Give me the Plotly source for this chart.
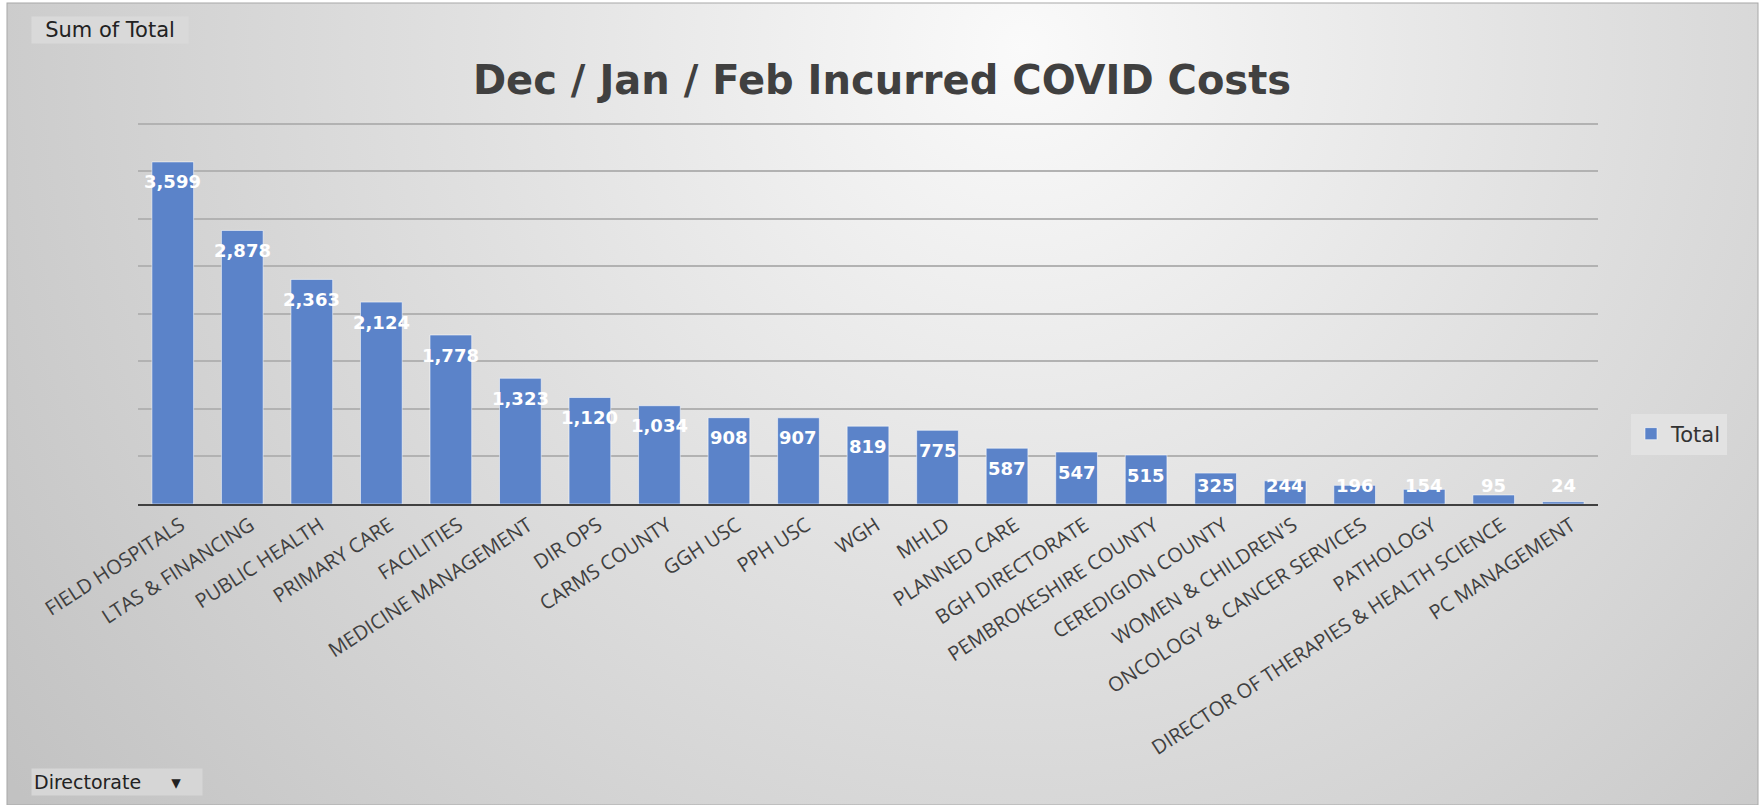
import base64
import numpy as np
import plotly.graph_objects as go

# ---- data ----
directorates = [
    "FIELD HOSPITALS", "LTAS & FINANCING", "PUBLIC HEALTH", "PRIMARY CARE",
    "FACILITIES", "MEDICINE MANAGEMENT", "DIR OPS", "CARMS COUNTY",
    "GGH USC", "PPH USC", "WGH", "MHLD", "PLANNED CARE", "BGH DIRECTORATE",
    "PEMBROKESHIRE COUNTY", "CEREDIGION COUNTY", "WOMEN & CHILDREN'S",
    "ONCOLOGY & CANCER SERVICES", "PATHOLOGY",
    "DIRECTOR OF THERAPIES & HEALTH SCIENCE", "PC MANAGEMENT",
]
totals = [3599, 2878, 2363, 2124, 1778, 1323, 1120, 1034, 908, 907, 819,
          775, 587, 547, 515, 325, 244, 196, 154, 95, 24]
series_name = "Total"
chart_title = "Dec / Jan / Feb Incurred COVID Costs"
field_button = "Sum of Total"
axis_button = "Directorate"

# ---- layout geometry ----
W, H = 1764, 805
ML, MR, MT, MB = 138, 166, 120, 301
PW, PH = W - ML - MR, H - MT - MB
Y_TOP = 4040   # slight headroom so the 4,000 gridline is drawn
LABEL_FLOOR = 410  # Excel keeps "inside end" labels above the axis


def px_x(x):
    return (x - ML) / PW


def px_y(y):
    return (H - MB - y) / PH


bar_color = "#5b83c9"
text_dark = "#404040"

# background gradient image (svg)
svg = f"""<svg xmlns='http://www.w3.org/2000/svg' width='{W}' height='{H}' viewBox='0 0 {W} {H}' preserveAspectRatio='none'>
<defs><radialGradient id='g' gradientUnits='userSpaceOnUse' cx='{W*0.58}' cy='{H*0.06}' r='1250'>
<stop offset='0' stop-color='#fafafa'/><stop offset='0.45' stop-color='#e0e0e0'/><stop offset='1' stop-color='#c2c2c2'/>
</radialGradient></defs>
<rect x='0' y='0' width='{W}' height='{H}' fill='#ffffff'/>
<rect x='7' y='3' width='{W-13}' height='{H-3}' fill='url(#g)' stroke='#a8a8a8' stroke-width='1'/>
</svg>"""
bg_src = "data:image/svg+xml;base64," + base64.b64encode(svg.encode()).decode()

fig = go.Figure()
fig.add_trace(go.Bar(
    x=directorates, y=totals, name=series_name,
    marker=dict(color=bar_color, line=dict(color="rgba(255,255,255,0.55)", width=1)),
    hoverinfo="x+y",
))

label_y = np.maximum(np.array(totals), LABEL_FLOOR)
annotations = []
for cat, v, ly in zip(directorates, totals, label_y):
    annotations.append(dict(
        x=cat, y=float(ly), xref="x", yref="y", text=f"{v:,}", showarrow=False,
        yshift=-20, yanchor="middle",
        font=dict(family="DejaVu Sans", size=18, color="white", weight="bold"),
    ))

# pivot field buttons
annotations.append(dict(
    x=px_x(31), y=px_y(16), xref="paper", yref="paper", xanchor="left", yanchor="top",
    text=field_button, showarrow=False, align="center", width=152, height=22,
    bgcolor="#d9d9d9", borderpad=2,
    font=dict(family="DejaVu Sans", size=21, color="#222222"),
))
annotations.append(dict(
    x=px_x(31), y=px_y(768), xref="paper", yref="paper", xanchor="left", yanchor="top",
    text=axis_button + "     \u25be", showarrow=False, align="left", width=166, height=22,
    bgcolor="#d6d6d6", borderpad=2,
    font=dict(family="DejaVu Sans", size=19, color="#222222"),
))

fig.update_layout(
    width=W, height=H,
    margin=dict(l=ML, r=MR, t=MT, b=MB, autoexpand=False),
    paper_bgcolor="#d8d8d8", plot_bgcolor="rgba(0,0,0,0)",
    title=dict(text=chart_title, x=0.5, xanchor="center", y=1 - 79.5 / H, yanchor="middle",
               font=dict(family="DejaVu Sans", size=40, color=text_dark, weight="bold")),
    bargap=0.4,
    showlegend=True,
    legend=dict(x=px_x(1631), y=px_y(434), xanchor="left", yanchor="middle",
                bgcolor="#e2e2e2", borderwidth=0,
                font=dict(family="DejaVu Sans", size=21, color="#333333"),
                itemwidth=30),
    xaxis=dict(showline=True, linecolor="#404040", linewidth=2, ticks="",
               tickangle=-33, showgrid=False, ticklabelshift=8,
               tickfont=dict(family="Open Sans", size=20, color=text_dark)),
    yaxis=dict(range=[0, Y_TOP], dtick=500, showticklabels=False, showgrid=True,
               gridcolor="#b2b2b2", gridwidth=1.5, zeroline=False, showline=False),
    annotations=annotations,
    images=[dict(source=bg_src, xref="paper", yref="paper",
                 x=-ML / PW, y=1 + MT / PH, sizex=W / PW, sizey=H / PH,
                 xanchor="left", yanchor="top", sizing="stretch", layer="below")],
)

fig.write_html("out.html", config={"displayModeBar": False},
               post_script="document.body.style.margin='0';document.body.style.overflow='hidden';")
